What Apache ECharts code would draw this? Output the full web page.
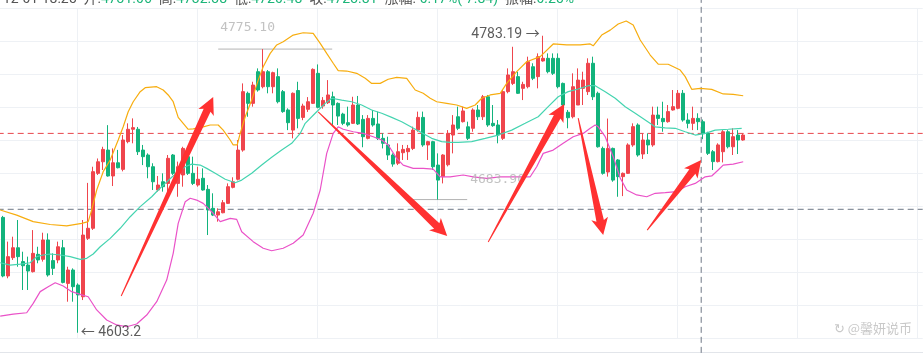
<!DOCTYPE html>
<html><head><meta charset="utf-8">
<script src="https://cdn.jsdelivr.net/npm/echarts@6/dist/echarts.min.js"></script>
<style>html,body{margin:0;padding:0;background:#fff}#c{width:923px;height:357px}</style>
</head><body><div id="c"></div>
<script>
// ---- candle values (candle index 0..148) ----
const opens=[4673.1,4637.6,4648.7,4654.7,4646.3,4644.2,4640.2,4650.7,4647.7,4659.4,
4646.9,4647.3,4654.7,4633.1,4641.2,4632.1,4625.0,4660.4,4666.5,4699.8,
4706.8,4713.9,4698.2,4706.2,4702.2,4719.0,4726.5,4726.5,4713.9,4710.9,
4703.8,4689.7,4694.7,4693.7,4710.9,4693.7,4698.8,4709.9,4699.8,4692.7,
4696.8,4690.1,4678.6,4674.5,4675.9,4681.6,4691.3,4696.2,4713.9,4748.3,
4742.2,4761.4,4752.3,4761.4,4752.3,4758.4,4749.3,4738.2,4726.0,4750.0,
4733.7,4738.6,4742.2,4760.4,4740.6,4742.6,4746.2,4742.2,4735.7,4730.5,
4730.1,4741.2,4732.5,4721.0,4733.1,4729.7,4721.0,4717.0,4710.9,4705.9,
4712.3,4712.9,4714.9,4726.0,4733.7,4717.0,4719.0,4704.8,4697.8,4705.0,
4723.0,4734.1,4731.1,4728.0,4727.1,4738.2,4734.1,4746.2,4730.1,4729.1,
4721.0,4749.3,4754.3,4758.4,4751.3,4752.3,4764.4,4758.4,4767.9,4769.5,
4769.5,4769.5,4754.3,4736.8,4734.1,4741.2,4751.3,4749.3,4766.5,4748.3,
4714.9,4700.6,4714.9,4707.9,4697.8,4699.8,4717.0,4729.1,4711.5,4720.0,
4717.0,4735.1,4733.1,4731.1,4738.2,4739.2,4748.3,4732.1,4730.1,4733.1,
4731.06,4724.0,4712.9,4706.9,4712.9,4725.0,4715.9,4723.0,4720.0];
const closes=[4637.6,4649.3,4654.7,4649.3,4643.8,4640.6,4651.3,4647.3,4659.4,4638.2,
4642.2,4655.3,4633.7,4641.2,4631.1,4626.1,4662.4,4666.5,4700.8,4706.8,
4714.3,4698.2,4706.2,4703.2,4720.0,4726.5,4727.5,4712.9,4709.9,4703.8,
4694.7,4692.7,4691.7,4708.9,4699.8,4703.8,4714.9,4699.8,4693.7,4696.2,
4689.7,4677.6,4674.5,4676.5,4682.0,4691.7,4694.7,4713.9,4749.3,4742.2,
4753.3,4750.3,4761.4,4752.3,4760.8,4743.2,4737.2,4730.5,4748.3,4733.1,
4740.6,4743.2,4762.8,4739.8,4744.0,4747.3,4741.2,4734.5,4730.1,4729.1,
4741.2,4729.7,4722.0,4733.1,4729.1,4721.0,4718.0,4710.9,4705.4,4712.9,
4714.3,4714.9,4726.0,4733.7,4717.0,4719.0,4703.8,4695.7,4710.9,4724.0,
4729.1,4727.1,4737.6,4721.0,4738.2,4734.1,4746.2,4729.1,4728.7,4723.0,
4749.3,4759.4,4761.4,4748.3,4753.7,4767.5,4757.4,4770.5,4769.5,4761.4,
4760.4,4752.3,4741.2,4733.5,4752.3,4756.3,4756.3,4766.5,4746.2,4715.9,
4699.8,4714.9,4695.7,4697.8,4699.8,4717.0,4728.1,4710.9,4720.0,4717.0,
4735.1,4733.1,4731.1,4737.2,4740.2,4748.3,4732.1,4730.1,4733.1,4731.1,
4723.81,4711.9,4706.9,4717.0,4725.0,4715.9,4722.0,4720.0,4723.0];
const highs=[4674.0,4658.4,4661.4,4671.5,4652.3,4649.3,4665.4,4655.3,4663.8,4663.4,
4651.3,4658.4,4659.4,4643.2,4642.2,4633.1,4671.5,4694.0,4703.8,4708.8,
4715.9,4729.0,4714.9,4714.0,4723.0,4730.1,4733.1,4727.9,4717.0,4711.9,
4705.9,4698.2,4699.8,4710.9,4711.5,4706.9,4715.9,4712.9,4709.9,4703.8,
4702.8,4692.7,4687.7,4678.6,4683.6,4693.7,4697.4,4720.0,4754.3,4749.3,
4755.3,4763.4,4775.1,4762.4,4761.4,4763.4,4750.3,4739.2,4748.8,4755.3,
4742.0,4746.0,4763.4,4765.8,4746.0,4756.3,4749.3,4742.8,4736.5,4740.2,
4746.2,4746.7,4735.1,4735.1,4738.2,4737.2,4724.0,4722.0,4711.9,4718.0,
4717.0,4717.0,4728.1,4737.2,4737.2,4719.5,4719.5,4711.9,4711.4,4726.0,
4735.1,4740.2,4740.2,4731.1,4739.2,4741.2,4747.3,4747.3,4741.2,4732.1,
4750.3,4763.4,4776.5,4761.4,4755.3,4770.5,4766.5,4772.5,4783.19,4772.5,
4772.5,4772.5,4754.8,4738.2,4760.4,4763.4,4761.4,4769.5,4770.5,4749.3,
4716.0,4733.0,4715.4,4708.4,4700.3,4718.0,4730.1,4730.1,4724.0,4724.0,
4740.2,4740.2,4743.2,4741.2,4750.3,4750.3,4750.3,4736.2,4740.2,4736.2,
4732.38,4725.0,4713.9,4718.0,4726.0,4726.0,4727.1,4726.0,4724.0];
const lows=[4636.8,4636.2,4647.3,4643.2,4629.1,4629.1,4639.7,4645.3,4646.3,4637.2,
4638.2,4645.3,4633.1,4622.0,4622.0,4603.2,4623.0,4659.4,4665.5,4698.8,
4701.8,4697.8,4692.1,4702.8,4701.0,4718.0,4718.0,4710.9,4704.8,4696.8,
4689.7,4688.7,4688.7,4685.6,4698.8,4685.6,4691.7,4698.8,4692.7,4691.7,
4689.3,4662.4,4673.9,4670.5,4675.6,4681.2,4690.7,4695.5,4712.9,4734.1,
4740.2,4749.3,4751.3,4748.3,4748.3,4742.2,4736.5,4726.0,4721.0,4727.1,
4732.0,4737.0,4741.8,4739.2,4739.0,4741.8,4729.1,4729.1,4729.0,4728.1,
4729.7,4729.1,4715.6,4720.4,4728.1,4720.0,4714.9,4707.9,4703.8,4704.8,
4707.9,4707.9,4713.9,4725.0,4715.9,4707.9,4701.8,4683.9,4693.7,4704.0,
4711.9,4726.0,4730.6,4720.0,4725.0,4732.1,4732.1,4728.0,4728.0,4718.0,
4720.0,4748.3,4753.3,4747.9,4744.2,4751.3,4756.3,4751.3,4767.5,4760.4,
4759.4,4751.3,4735.1,4727.1,4733.1,4741.2,4741.2,4747.3,4744.2,4715.4,
4699.0,4697.8,4694.7,4685.6,4686.0,4699.4,4715.9,4709.9,4708.5,4711.5,
4715.9,4729.1,4725.0,4730.5,4737.8,4738.6,4731.1,4727.1,4726.0,4726.0,
4720.48,4710.9,4701.8,4706.4,4706.4,4714.9,4710.9,4711.5,4719.6];

// ---- Bollinger band lines (candle index, price) ----
const upperIdx=[-0.5,2.8,6.1,9.5,12.8,15.8,17.1,17.8,18.8,20.1,21.5,23.1,24.1,25.1,26.1,27.5,28.5,30.8,32.1,33.1,34.1,35.1,36.1,37.1,38.1,40.1,41.5,43.1,44.1,45.5,46.1,46.9,47.5,48.5,49.8,51.1,52.1,53.5,54.8,56.1,58.1,60.1,62.1,63.5,64.8,66.1,67.1,68.8,70.8,72.5,73.8,75.5,77.1,78.8,80.8,82.5,84.1,85.5,86.8,88.8,90.8,92.8,94.5,95.8,97.5,99.5,100.8,102.8,104.8,107.5,110.1,112.8,115.5,117.5,118.1,119.8,121.5,123.1,124.7,126.1,127.5,129.5,131.1,133.1,135.5,136.5,137.8,139.5,141.8,144.1,146.1,148.1];
const upperVal=[4677.6,4674.5,4670.5,4668.8,4667.9,4669.5,4670.5,4677.6,4689.7,4700.8,4707.9,4720,4728,4737.1,4743.2,4749.3,4751.7,4752.3,4750.3,4747.3,4743.2,4733.7,4730.1,4726.5,4726.7,4728,4729.1,4729.1,4726,4720,4717,4717,4724,4734.1,4744.2,4756.3,4764.4,4772.5,4777.6,4779.6,4783.6,4785,4784.6,4778.6,4772.5,4766.5,4762,4761.8,4760.4,4757.4,4754.3,4754.3,4756.8,4758,4757.4,4750.3,4748.3,4745.3,4743.2,4742.2,4741.2,4739.2,4741.2,4745.3,4747.3,4748.3,4754.3,4761.4,4767.4,4770.5,4778.2,4777.6,4777.6,4778.2,4777.1,4783.6,4786.6,4790.3,4792.1,4789.7,4780.6,4771.5,4766,4765.9,4762.4,4758.4,4750.7,4751.3,4750.7,4747.9,4747.7,4746.8];
const midIdx=[-0.5,1.5,3.5,5.5,6.8,8.1,9.5,11.5,13.5,15.5,16.8,18.1,19.5,21.5,23.5,25.5,27.5,29.8,31.1,32.5,33.8,35.1,36.5,37.8,39.5,40.8,42.5,44.5,46.5,47.8,49.8,51.8,53.8,55.8,57.8,59.5,60.5,62.5,64.5,65.8,67.8,69.8,71.8,73.8,75.8,77.8,79.8,81.8,83.8,85.8,87.8,89.5,91.1,93.8,96.5,99.1,101.8,104.5,107.1,109.1,111.1,113.1,115.1,117.1,118.5,120.5,122.5,124.5,126.5,128.5,130.5,132.5,134.5,136.5,138.5,140.5,142.5,145.1,147.8];
const midVal=[4645.6,4644.2,4644.8,4645.6,4649.3,4650.3,4650.9,4650.3,4649.3,4647.7,4648.3,4650.9,4655.3,4660.4,4666.5,4673.5,4679.6,4685.6,4689.7,4693.7,4697.4,4700.8,4703.8,4705.4,4704.8,4702.8,4699.8,4696.2,4694.1,4695.7,4699.8,4704.8,4709.5,4713.9,4718,4724,4730.1,4736.2,4742.2,4745.3,4744.2,4743.2,4741.2,4738.2,4736.2,4733.7,4731.1,4727.7,4724.4,4721,4719,4718.6,4718.6,4719,4721,4723,4726,4730.1,4734.1,4740.2,4746.2,4749.3,4750.9,4752.9,4752.9,4749.3,4745.3,4740.2,4736.2,4732.1,4728,4727.4,4727.1,4725,4723,4724,4726,4726.5,4727.1];
const lowerIdx=[-0.5,2.1,4.8,6.1,7.5,9.1,10.5,12.1,13.8,15.8,17.1,18.8,20.8,22.8,24.8,26.8,28.8,30.8,32.8,34.1,35.1,36.5,37.5,38.8,40.1,42.1,43.5,45.5,46.8,47.8,50.1,52.1,53.8,56.1,58.1,60.1,62.1,63.5,64.8,66.1,67.1,68.1,70.1,72.1,74.1,75.8,77.1,78.8,80.1,82.1,84.1,86.1,87.5,89.5,92.1,94.1,96.8,99.5,102.8,105.5,106.8,108.1,110.1,112.1,114.1,116.1,117.5,118.5,119.1,120.5,122.1,123.5,124.8,126.8,128.8,130.5,132.5,134.8,136.5,138.5,140.5,141.8,143.1,144.1,146.1,148.1];
const lowerVal=[4613.3,4614.5,4615.3,4621,4628.1,4631.1,4633.5,4631.5,4628.1,4626.1,4625,4617,4610.9,4607.9,4606.8,4608.5,4613.9,4622,4635.1,4651.3,4669.5,4682.6,4684.7,4683.6,4681.6,4675.6,4670.5,4672.5,4671.9,4664.4,4658.4,4654.4,4652.9,4654.4,4657.4,4662.4,4675.6,4689.7,4711.9,4724,4728,4726.5,4725,4724,4722,4720,4717,4708.9,4704.8,4702.8,4702.8,4702.3,4697.7,4697.7,4698.8,4697.7,4696.8,4697.7,4697.7,4697.7,4703.8,4711.9,4713.9,4718,4722,4724,4727.1,4729.1,4728,4722,4709.9,4697,4689.7,4686.7,4685.6,4687.7,4688.1,4688.7,4691.7,4693.7,4697.7,4698.2,4701.8,4704.8,4705.4,4706.8];

// ---- hand-drawn arrows: [tailIdx, tailPrice] -> [headIdx, headPrice] ----
const arrowTails=[[23.7,4625.5],[63.1,4737.0],[97.1,4658.2],[115.1,4733.3],[128.9,4665.4]];
const arrowHeads=[[42.1,4746.0],[88.9,4661.8],[112.3,4741.8],[120.1,4662.4],[139.7,4707.9]];

// ---- reference levels / annotations ----
const lastPrice=4724.0, crossPrice=4678.0, crossIdx=139.7;
const axisIdxRange=[-1,184], priceRange=[4591,4806];
const highMark={price:4775.10,text:'4775.10',from:43.1,to:65.9};
const lowMark={price:4683.90,text:'4683.90',from:81.9,to:92.9};
const extremeHigh={idx:108,price:4783.19,text:'4783.19 →'};
const extremeLow={idx:15,price:4603.2,text:'← 4603.2'};
const header={time:'-12-01 18:25',open:'4731.06',high:'4732.38',low:'4720.48',close:'4723.81',chg:'-0.17%(-7.84)',amp:'0.25%'};

const N=186; // slot 0 empty, candle k in slot k+1, empty slots at right
const categories=[]; for(let i=0;i<N;i++) categories.push('s'+i);
const candleData=categories.map((c,j)=>{const k=j-1; return (k>=0&&k<opens.length)?[opens[k],closes[k],lows[k],highs[k]]:'-';});
const zip=(a,b)=>a.slice(0,Math.min(a.length,b.length)).map((x,i)=>[x,b[i]]);

const RED='#ef454d', GREEN='#12b37c';
const chart=echarts.init(document.getElementById('c'),null,{renderer:'canvas'});
const fontMain='Roboto, "Noto Sans CJK SC", sans-serif';
const mono='"DejaVu Sans Mono", monospace';
function refLine(data,color,dashed,z){
  return {type:'line',xAxisIndex:1,data:data,symbol:'none',z:z,silent:true,clip:false,
    lineStyle:{color:color,width:1,type:dashed?[6,4]:'solid'},emphasis:{disabled:true}};
}
chart.setOption({
  animation:false,
  backgroundColor:'#fff',
  textStyle:{fontFamily:fontMain},
  grid:{left:-2.3,right:0.3,top:8,bottom:19,outerBoundsMode:'none',containLabel:false},
  xAxis:[
    {type:'category',data:categories,boundaryGap:false,
      axisLabel:{show:false},axisTick:{show:false},
      axisLine:{show:true,onZero:false,lineStyle:{color:'#e2e5ea',width:1}},offset:14,
      splitLine:{show:true,interval:(i)=>i>=16&&(i-16)%24===0,lineStyle:{color:'#eef1f5',width:1}}},
    {type:'value',min:axisIdxRange[0],max:axisIdxRange[1],show:false}
  ],
  yAxis:{type:'value',min:4600,max:4800,interval:20,
    axisLabel:{show:false},axisTick:{show:false},axisLine:{show:false},
    splitLine:{show:true,lineStyle:{color:'#eef1f5',width:1}}},
  series:[
    refLine([[highMark.from,highMark.price],[highMark.to,highMark.price]],'#b4b4b4',false,1),
    refLine([[lowMark.from,lowMark.price],[lowMark.to,lowMark.price]],'#b4b4b4',false,1),
    refLine([[axisIdxRange[0],lastPrice],[axisIdxRange[1],lastPrice]],'#e8464c',true,1),
    refLine([[axisIdxRange[0],crossPrice],[axisIdxRange[1],crossPrice]],'#6e7886',true,1),
    refLine([[crossIdx,priceRange[0]],[crossIdx,priceRange[1]]],'#6e7886',true,1),
    {type:'candlestick',xAxisIndex:0,data:candleData,barWidth:3.6,clip:false,z:2,
      itemStyle:{color:RED,color0:GREEN,borderColor:RED,borderColor0:GREEN,borderWidth:1}},
    {type:'line',xAxisIndex:1,data:zip(upperIdx,upperVal),symbol:'none',z:3,lineStyle:{color:'#f7ad0f',width:1.2}},
    {type:'line',xAxisIndex:1,data:zip(midIdx,midVal),symbol:'none',z:3,lineStyle:{color:'#45d4b0',width:1.2}},
    {type:'line',xAxisIndex:1,data:zip(lowerIdx,lowerVal),symbol:'none',z:3,lineStyle:{color:'#ea52c8',width:1.2}},
    {type:'scatter',xAxisIndex:1,symbolSize:0,z:4,silent:true,
      data:[
        {value:[extremeLow.idx,extremeLow.price],label:{show:true,position:'right',distance:3,formatter:extremeLow.text,color:'#333',fontSize:14}},
        {value:[extremeHigh.idx,extremeHigh.price],label:{show:true,position:'left',distance:3,formatter:extremeHigh.text,color:'#333',fontSize:14,offset:[0,-1]}},
        {value:[highMark.from,highMark.price],label:{show:true,position:'right',distance:3,offset:[-1,-21],formatter:highMark.text,color:'#b3b3b3',fontSize:13,fontFamily:mono}},
        {value:[lowMark.to,lowMark.price],label:{show:true,position:'right',distance:3,offset:[0,-20],formatter:lowMark.text,color:'#b3b3b3',fontSize:13,fontFamily:mono}}
      ]},
    {type:'custom',xAxisIndex:1,z:10,clip:false,silent:true,
      data:arrowTails.map((t,i)=>[t[0],t[1],arrowHeads[i][0],arrowHeads[i][1]]),
      encode:{x:[0,2],y:[1,3]},
      renderItem:(params,api)=>{
        const t=api.coord([api.value(0),api.value(1)]);
        const h=api.coord([api.value(2),api.value(3)]);
        const dx=h[0]-t[0],dy=h[1]-t[1],L=Math.hypot(dx,dy),ux=dx/L,uy=dy/L,nx=-uy,ny=ux;
        const hl=17,hw=8.5,sw=3.8,tw=0.5,nb=2.5;
        const bx=h[0]-ux*hl,by=h[1]-uy*hl;
        const pts=[[t[0]+nx*tw,t[1]+ny*tw],[bx+ux*nb+nx*sw,by+uy*nb+ny*sw],[bx+nx*hw,by+ny*hw],[h[0],h[1]],[bx-nx*hw,by-ny*hw],[bx+ux*nb-nx*sw,by+uy*nb-ny*sw],[t[0]-nx*tw,t[1]-ny*tw]];
        return {type:'polygon',shape:{points:pts},style:{fill:'#ff3131'}};
      }}
  ],
  graphic:[
    {type:'text',x:-1,y:-1,z:100,style:{
      text:'{l|'+header.time+'  开:}{g|'+header.open+'}{l|  高:}{g|'+header.high+'}{l|  低:}{g|'+header.low+'}{l|  收:}{g|'+header.close+'}{l|  涨幅:}{g|'+header.chg+'}{l|  振幅:}{g|'+header.amp+'}',
      verticalAlign:'middle',
      rich:{l:{fill:'#555',fontSize:14,fontFamily:fontMain},g:{fill:'#1db57a',fontSize:14,fontFamily:fontMain}}}},
    {type:'text',right:11,top:322,z:100,style:{text:'↻ @馨妍说币',fill:'#c9c9c9',fontSize:13,fontFamily:'"Noto Sans CJK SC", sans-serif'}}
  ]
});
</script></body></html>
